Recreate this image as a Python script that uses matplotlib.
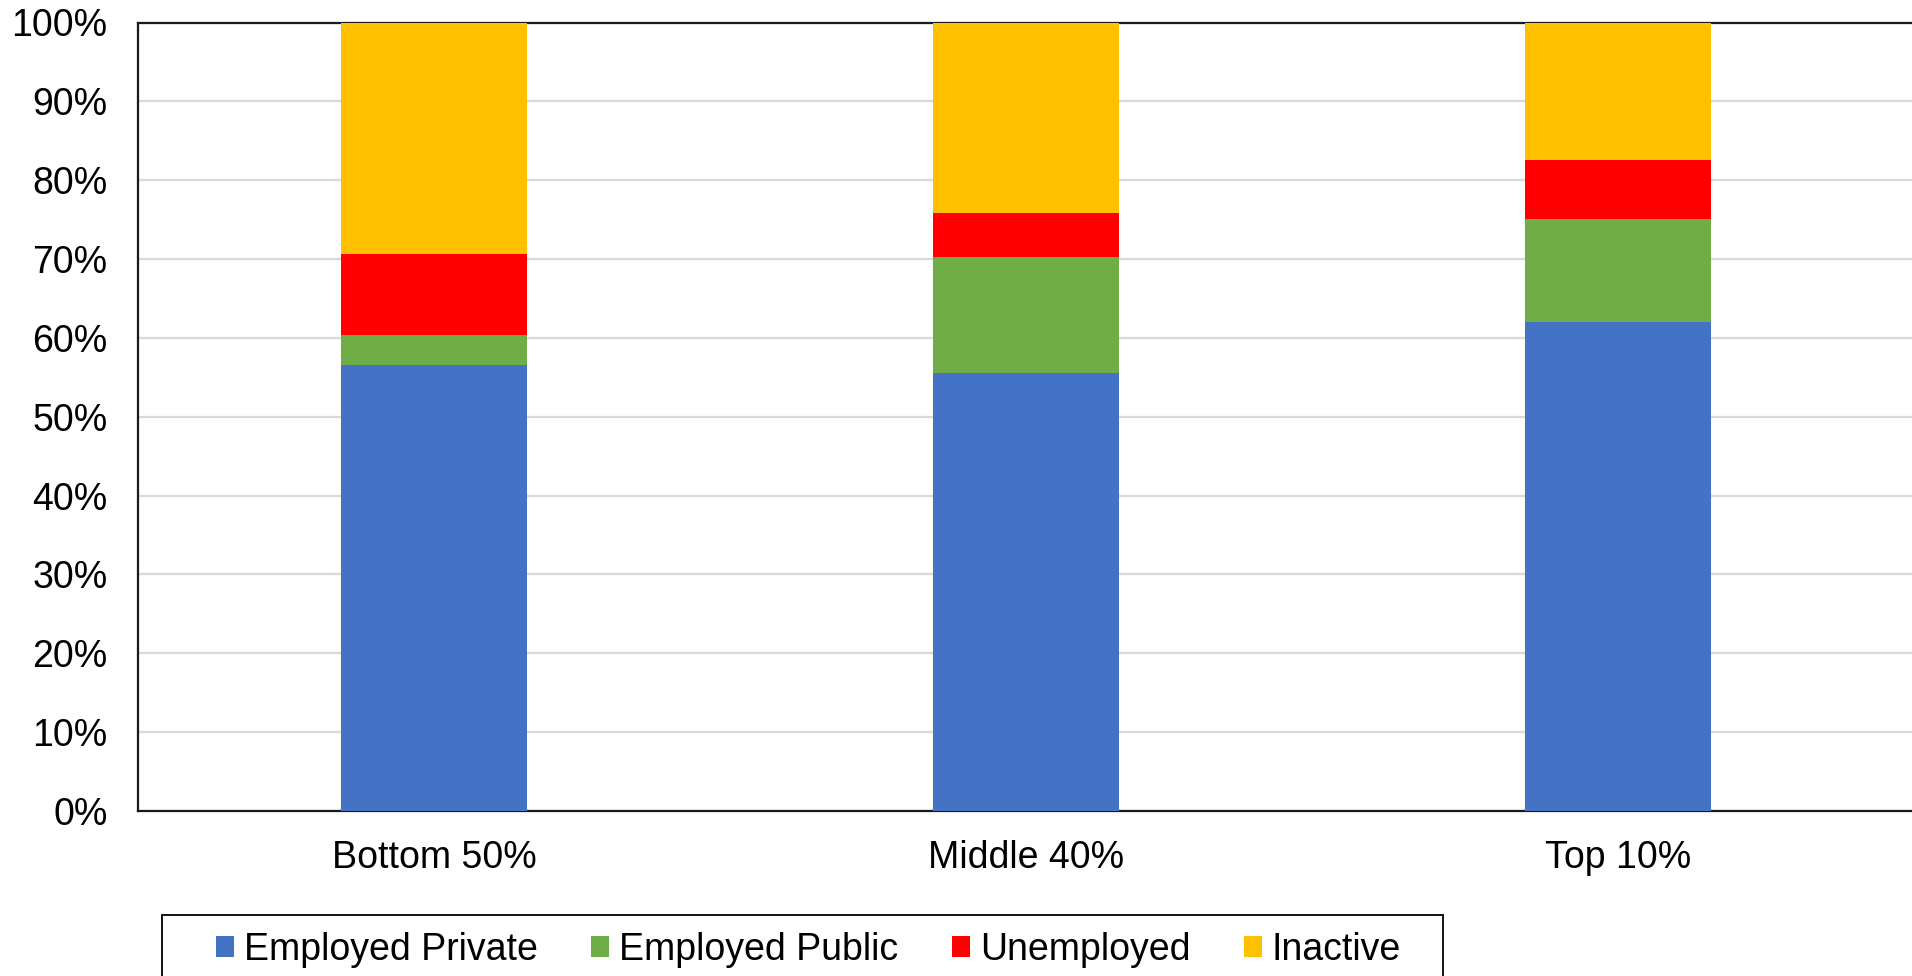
import numpy as np
import matplotlib.pyplot as plt
from matplotlib.patches import Rectangle

plt.rcParams['font.family'] = ['Liberation Sans', 'DejaVu Sans']

groups = ['Bottom 50%', 'Middle 40%', 'Top 10%']
series = ['Employed Private', 'Employed Public', 'Unemployed', 'Inactive']
emp_private = [56.5, 55.5, 62.0]
emp_public = [3.9, 14.7, 13.1]
unemployed = [10.2, 5.7, 7.4]
inactive = [29.4, 24.1, 17.5]
colors = ['#4472C4', '#70AD47', '#FF0000', '#FFC000']

W, H = 1912, 976
fig = plt.figure(figsize=(W / 100, H / 100), dpi=100)
ax = fig.add_axes([138 / W, 1 - 811 / H, 1 - 136 / W, (811 - 22.5) / H])

x = np.arange(len(groups))
bottom = np.zeros(len(groups))
for vals, name, c in zip([emp_private, emp_public, unemployed, inactive], series, colors):
    ax.bar(x, vals, width=0.314, bottom=bottom, color=c, label=name, zorder=3)
    bottom += np.array(vals)

ax.set_xlim(-0.5, 2.5)
ax.set_ylim(0, 100)
ax.set_yticks(np.arange(0, 101, 10))
ax.set_yticklabels([f'{v}%' for v in range(0, 101, 10)])
ax.set_xticks(x)
ax.set_xticklabels(groups)
ax.tick_params(axis='y', length=0, pad=22, labelsize=27)
ax.tick_params(axis='x', length=0, pad=21, labelsize=27)
ax.grid(axis='y', color='#d9d9d9', linewidth=1.6, zorder=0)
ax.set_axisbelow(True)
for s in ['left', 'bottom', 'top']:
    ax.spines[s].set_color('#1a1a1a')
    ax.spines[s].set_linewidth(1.6)
ax.spines['right'].set_visible(False)

# legend box (frame runs off the bottom of the image)
fig.patches.append(Rectangle((162 / W, -0.05), (1443 - 162) / W, 1 - 915 / H + 0.05,
                             transform=fig.transFigure, fill=False,
                             edgecolor='black', linewidth=1.3))
fig.legend(loc='center left', bbox_to_anchor=(216 / W, 1 - 950 / H),
           bbox_transform=fig.transFigure, ncol=4, frameon=False, fontsize=27,
           handlelength=0.48, handleheight=0.48, handletextpad=0.27,
           columnspacing=1.42, borderpad=0, borderaxespad=0)

fig.savefig('out.png', dpi=100)
